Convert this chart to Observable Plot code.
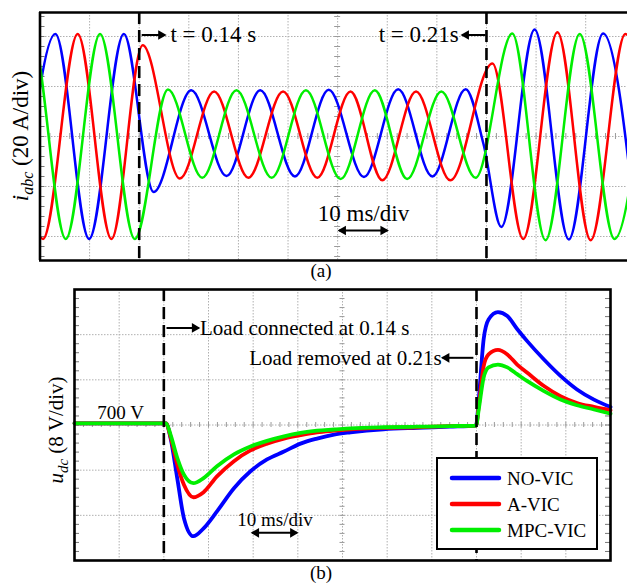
<!DOCTYPE html>
<html><head><meta charset="utf-8">
<script src="https://cdn.jsdelivr.net/npm/d3@7"></script>
<script src="https://cdn.jsdelivr.net/npm/@observablehq/plot@0.6"></script>
<style>
html,body{margin:0;padding:0;background:#fff;overflow:hidden;}
#wrap{width:627px;height:585px;position:relative;background:#fff;}
#wrap svg{display:block;}
</style></head><body><div id="wrap"></div>
<script>
// ---------- Panel (a): three-phase currents, extrema (t in s, i in A)
const timesBlueA = [0.1163,0.1231,0.1299,0.1369,0.1429,0.1505,0.1576,0.1644,0.1714,0.1782,0.1853,0.1922,0.1991,0.2058,0.2094,0.2130,0.2197,0.2266,0.2335,0.2404];
const currBlueA  = [-41,41,-41,41,-22.2,18.5,-15.8,18.5,-16,18.7,-16.2,18.9,-16,18.9,-3,-36.2,42.8,-41.2,41.2,-41];
const timesRedA  = [0.1137,0.1206,0.1276,0.1344,0.1407,0.1482,0.1551,0.1620,0.1690,0.1759,0.1826,0.1890,0.1958,0.2027,0.2112,0.2174,0.2243,0.2310,0.2380,0.2449];
const currRedA   = [41,-41,41,-41,36.5,-16.8,18,-16.5,18,-16.5,18,-17.5,18,-17.5,29.2,-41,41.7,-41.5,41,-41];
const timesGreenA= [0.1114,0.1183,0.1252,0.1321,0.1391,0.1458,0.1527,0.1596,0.1667,0.1736,0.1806,0.1875,0.1940,0.2009,0.2078,0.2152,0.2219,0.2288,0.2358,0.2427];
const currGreenA = [-41,41,-41,41,-41,18.8,-16.5,18.5,-16.5,18.5,-17,18.5,-17,18,-16.5,41.2,-41.5,41,-41,41];

// ---------- Panel (b): DC-link voltage (t in s, u in V)
const timesB = [0.1200,0.1405,0.1415,0.1430,0.1445,0.1466,0.1489,0.1519,0.1557,0.1594,0.1631,0.1669,0.1706,0.1743,0.1781,0.1818,0.1892,0.1967,0.2040,0.2099,0.2105,0.2116,0.2127,0.2148,0.2169,0.2191,0.2213,0.2251,0.2288,0.2325,0.2363,0.2400];
const noVIC  = [700.3,700.3,697.7,690.6,683.5,680.3,681.7,684.7,688.8,691.8,693.9,695.3,696.7,697.6,698.3,698.7,699.25,699.5,699.7,699.9,704.5,715.2,718.7,720.0,719.3,717.0,714.9,711.6,708.7,706.3,704.5,703.2];
const aVIC   = [700.3,700.3,697.9,693.0,689.4,687.2,688.1,690.9,693.6,695.5,696.7,697.6,698.2,698.7,699.0,699.25,699.5,699.6,699.8,699.9,703.3,710.4,712.5,713.3,712.5,710.7,709.3,706.9,705.1,703.9,703.2,702.6];
const mpcVIC = [700.3,700.3,698.3,694.2,691.2,689.7,690.6,692.7,694.8,696.2,697.2,698.0,698.6,699.0,699.2,699.4,699.6,699.7,699.8,699.9,702.75,708.4,710.2,710.7,710.2,709.0,707.8,706.0,704.5,703.5,702.75,702.0];

const seriesNames  = ["NO-VIC","A-VIC","MPC-VIC"];
const seriesColors = ["#0000ff","#ff0000","#00ee00"];
const eventTimes = [0.14, 0.21];

// ---------- helpers
const serif = "'Liberation Serif','Times New Roman',serif";
const rows = (T, V) => T.map((t, k) => ({t, v: V[k]}));
const gridT = d3.range(13, 24).map(d => d / 100);
const minorT = d3.range(120, 241, 2).map(d => d / 1000);
const gridStyle = {stroke: "#b0b0b0", strokeWidth: 1, strokeDasharray: "1.5,1.5"};
const tickStyle = {stroke: "#9a9a9a", strokeWidth: 1};

function arrowMarks(arrows) {
  const right = arrows.filter(a => a.dir === "r" || a.dir === "both").map(a => ({t: a.x2, v: a.y}));
  const left  = arrows.filter(a => a.dir === "l" || a.dir === "both").map(a => ({t: a.dir === "both" ? a.x1 : a.x2, v: a.y}));
  return [
    Plot.link(arrows, {x1: "x1", x2: "x2", y1: "y", y2: "y", stroke: "black", strokeWidth: 2}),
    Plot.dot(right, {x: "t", y: "v", symbol: "triangle", rotate: 90, r: 3.6, fill: "black", stroke: "none", dx: -4}),
    Plot.dot(left,  {x: "t", y: "v", symbol: "triangle", rotate: -90, r: 3.6, fill: "black", stroke: "none", dx: 4})
  ];
}

// ---------- Panel (a)
const gridIA = [-40, -20, 0, 20, 40];
const minorIA = d3.range(-48, 49, 4);
const arrowsA = [
  {x1: 0.1405, x2: 0.1452, y: 40.6, dir: "r"},
  {x1: 0.2098, x2: 0.2051, y: 40.6, dir: "l"},
  {x1: 0.1803, x2: 0.1900, y: -37.6, dir: "both"}
];
const textsA = [
  {t: 0.1463, v: 40.7, label: "t = 0.14 s", anchor: "start"},
  {t: 0.2044, v: 40.7, label: "t = 0.21s", anchor: "end"},
  {t: 0.1852, v: -31.0, label: "10 ms/div", anchor: "middle"}
];

const plotA = Plot.plot({
  width: 627, height: 284,
  marginLeft: 39, marginRight: 0, marginTop: 12, marginBottom: 24,
  x: {domain: [0.12, 0.24], range: [39.5, 634.8], axis: null},
  y: {domain: [-49.6, 49.6], axis: null},
  style: {background: "white", overflow: "hidden"},
  marks: [
    Plot.ruleX(gridT, gridStyle),
    Plot.ruleY(gridIA, gridStyle),
    Plot.ruleX(minorT, {x: d => d, y1: 0, y2: 0, insetTop: -3, insetBottom: -3, ...tickStyle}),
    Plot.ruleY(minorIA, {y: d => d, x1: 0.18, x2: 0.18, insetLeft: -3, insetRight: -3, ...tickStyle}),
    Plot.ruleY(minorIA, {y: d => d, x1: 0.12, x2: 0.12, insetLeft: 0, insetRight: -5, stroke: "#777", strokeWidth: 1}),
    Plot.line(rows(timesBlueA, currBlueA),  {x: "t", y: "v", stroke: seriesColors[0], strokeWidth: 2.5, curve: "monotone-x", clip: true}),
    Plot.line(rows(timesRedA, currRedA),    {x: "t", y: "v", stroke: seriesColors[1], strokeWidth: 2.5, curve: "monotone-x", clip: true}),
    Plot.line(rows(timesGreenA, currGreenA),{x: "t", y: "v", stroke: seriesColors[2], strokeWidth: 2.5, curve: "monotone-x", clip: true}),
    Plot.ruleX(eventTimes, {stroke: "black", strokeWidth: 2.6, strokeDasharray: "12,6"}),
    Plot.ruleX([0.12], {stroke: "black", strokeWidth: 2.6}),
    Plot.ruleY([-49.6, 49.6], {stroke: "black", strokeWidth: 2.6}),
    ...arrowMarks(arrowsA),
    ...["start", "end", "middle"].map(a => Plot.text(textsA.filter(d => d.anchor === a), {x: "t", y: "v", text: "label", textAnchor: a, lineAnchor: "middle", fontFamily: serif, fontSize: 23, fill: "black"}))
  ]
});

// ---------- Panel (b)
const gridUB = [684, 692, 700, 708, 716];
const minorUB = d3.range(0, 31).map(k => 676 + k * 1.6);
const arrowsB = [
  {x1: 0.1406, x2: 0.1478, y: 717.2, dir: "r"},
  {x1: 0.2093, x2: 0.2024, y: 711.9, dir: "l"},
  {x1: 0.1598, x2: 0.1698, y: 680.9, dir: "both"}
];
const textsB = [
  {t: 0.1481, v: 717.2, label: "Load connected at 0.14 s", anchor: "start", size: 21},
  {t: 0.2022, v: 711.9, label: "Load removed at 0.21s", anchor: "end", size: 21},
  {t: 0.1649, v: 683.2, label: "10 ms/div", anchor: "middle", size: 19},
  {t: 0.1251, v: 702.1, label: "700 V", anchor: "start", size: 19}
];
const seriesB = [noVIC, aVIC, mpcVIC];

const plotB = Plot.plot({
  width: 627, height: 301,
  marginLeft: 74, marginRight: 17, marginTop: 5, marginBottom: 25,
  x: {domain: [0.12, 0.24], axis: null},
  y: {domain: [676, 724], axis: null},
  style: {background: "white", overflow: "hidden"},
  marks: [
    Plot.ruleX(gridT, gridStyle),
    Plot.ruleY(gridUB, gridStyle),
    Plot.ruleX(minorT, {x: d => d, y1: 700, y2: 700, insetTop: -2.5, insetBottom: -2.5, ...tickStyle}),
    Plot.ruleY(minorUB, {y: d => d, x1: 0.18, x2: 0.18, insetLeft: -2.5, insetRight: -2.5, ...tickStyle}),
    Plot.ruleY(minorUB, {y: d => d, x1: 0.12, x2: 0.12, insetLeft: 0, insetRight: -5, stroke: "#777", strokeWidth: 1}),
    Plot.ruleY(minorUB, {y: d => d, x1: 0.24, x2: 0.24, insetLeft: -5, insetRight: 0, stroke: "#777", strokeWidth: 1}),
    ...seriesB.map((V, k) => Plot.line(rows(timesB, V), {x: "t", y: "v", stroke: seriesColors[k], strokeWidth: 3.8, curve: "monotone-x"})),
    Plot.ruleX(eventTimes, {stroke: "black", strokeWidth: 2.6, strokeDasharray: "12,6"}),
    Plot.frame({stroke: "black", strokeWidth: 2.6}),
    ...arrowMarks(arrowsB),
    ...["start", "end", "middle"].map(a => Plot.text(textsB.filter(d => d.anchor === a), {x: "t", y: "v", text: "label", textAnchor: a, lineAnchor: "middle", fontFamily: serif, fontSize: d => d.size, fill: "black"}))
  ]
});

const wrap = document.getElementById("wrap");
wrap.appendChild(plotA);
wrap.appendChild(plotB);

// ---------- labels, captions, legend
function yLabel(svg, x, y, base, sub, rest, fs) {
  const t = d3.select(svg).append("text")
    .attr("transform", `translate(${x},${y}) rotate(-90)`)
    .attr("text-anchor", "middle")
    .style("font-family", serif).style("font-size", fs + "px").attr("fill", "black");
  t.append("tspan").attr("font-style", "italic").text(base);
  t.append("tspan").attr("font-style", "italic").attr("font-size", Math.round(fs * 0.7) + "px").attr("dy", Math.round(fs * 0.22)).text(sub);
  t.append("tspan").attr("dy", -Math.round(fs * 0.22)).text(rest);
}
yLabel(plotA, 28, 136, "i", "abc", " (20 A/div)", 23);
yLabel(plotB, 63, 146, "u", "dc", " (8 V/div)", 21);

function caption(svg, x, y, s) {
  d3.select(svg).append("text").attr("x", x).attr("y", y).attr("text-anchor", "middle")
    .style("font-family", serif).style("font-size", "19px").attr("fill", "black").text(s);
}
caption(plotA, 321, 277, "(a)");
caption(plotB, 321, 295, "(b)");

const lg = d3.select(plotB).append("g");
lg.append("rect").attr("x", 437).attr("y", 174).attr("width", 160).attr("height", 91)
  .attr("fill", "white").attr("stroke", "black").attr("stroke-width", 2);
seriesNames.forEach((name, k) => {
  const yy = 194 + k * 26;
  lg.append("line").attr("x1", 452).attr("x2", 499).attr("y1", yy).attr("y2", yy)
    .attr("stroke", seriesColors[k]).attr("stroke-width", 4.5).attr("stroke-linecap", "round");
  lg.append("text").attr("x", 507).attr("y", yy + 6.5).attr("text-anchor", "start")
    .style("font-family", serif).style("font-size", "19px").attr("fill", "black").text(name);
});
</script></body></html>
